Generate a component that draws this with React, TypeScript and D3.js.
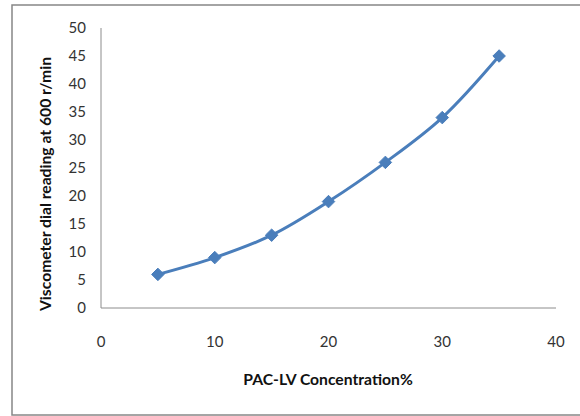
import { useEffect, useRef } from 'react'
import * as d3 from 'd3'

const concentrations = [5, 10, 15, 20, 25, 30, 35]
const readings = [6, 9, 13, 19, 26, 34, 45]
const xTicks = [0, 10, 20, 30, 40]
const yTicks = [0, 5, 10, 15, 20, 25, 30, 35, 40, 45, 50]

const App = () => {
  const svgRef = useRef<SVGSVGElement>(null)

  useEffect(() => {
    if (!svgRef.current) return
    const svg = d3.select(svgRef.current)
    svg.selectAll('*').remove()

    const font = 'Lato, Calibri, sans-serif'
    const left = 101
    const right = 556
    const top = 28
    const bottom = 308

    // Outer frame (runs off the right edge)
    svg
      .append('rect')
      .attr('x', 12)
      .attr('y', 5)
      .attr('width', 600)
      .attr('height', 410)
      .attr('fill', 'white')
      .attr('stroke', '#878787')
      .attr('stroke-width', 1.5)

    const x = d3.scaleLinear().domain([0, 40]).range([left, right])
    const y = d3.scaleLinear().domain([0, 50]).range([bottom, top])

    // Axis lines
    svg
      .append('line')
      .attr('x1', left)
      .attr('x2', left)
      .attr('y1', top)
      .attr('y2', bottom)
      .attr('stroke', '#8c8c8c')
    svg
      .append('line')
      .attr('x1', left)
      .attr('x2', right)
      .attr('y1', bottom)
      .attr('y2', bottom)
      .attr('stroke', '#8c8c8c')

    // Tick labels
    svg
      .append('g')
      .selectAll('text')
      .data(yTicks)
      .join('text')
      .attr('x', 86)
      .attr('y', d => y(d))
      .attr('dy', '0.35em')
      .attr('text-anchor', 'end')
      .style('font-family', font)
      .style('font-size', '15px')
      .style('fill', '#333')
      .text(d => d)

    svg
      .append('g')
      .selectAll('text')
      .data(xTicks)
      .join('text')
      .attr('x', d => x(d))
      .attr('y', 342)
      .attr('dy', '0.35em')
      .attr('text-anchor', 'middle')
      .style('font-family', font)
      .style('font-size', '15px')
      .style('fill', '#333')
      .text(d => d)

    // Axis titles
    svg
      .append('text')
      .attr('x', 328)
      .attr('y', 380)
      .attr('dy', '0.35em')
      .attr('text-anchor', 'middle')
      .style('font-family', font)
      .style('font-size', '15.7px')
      .style('font-weight', 'bold')
      .style('fill', '#111')
      .text('PAC-LV Concentration%')

    svg
      .append('text')
      .attr('transform', 'translate(45,184) rotate(-90)')
      .attr('dy', '0.35em')
      .attr('text-anchor', 'middle')
      .style('font-family', font)
      .style('font-size', '15.7px')
      .style('font-weight', 'bold')
      .style('fill', '#111')
      .text('Viscometer dial reading at 600 r/min')

    // Series line
    const pts = concentrations.map((c, i) => [c, readings[i]] as [number, number])
    const line = d3
      .line<[number, number]>()
      .x(d => x(d[0]))
      .y(d => y(d[1]))
      .curve(d3.curveCatmullRom.alpha(0.5))

    svg
      .append('path')
      .datum(pts)
      .attr('d', line)
      .attr('fill', 'none')
      .attr('stroke', '#4a7ebb')
      .attr('stroke-width', 3)

    // Diamond markers
    svg
      .append('g')
      .selectAll('path')
      .data(pts)
      .join('path')
      .attr('transform', d => `translate(${x(d[0])},${y(d[1])})`)
      .attr('d', d3.symbol(d3.symbolDiamond2, 100)())
      .attr('fill', '#4a7ebb')
      .attr('stroke', '#4a7ebb')
      .attr('stroke-width', 1)
  }, [])

  return (
    <svg
      ref={svgRef}
      width={580}
      height={416}
      style={{ position: 'absolute', left: 0, top: 0, display: 'block' }}
    />
  )
}

export default App
